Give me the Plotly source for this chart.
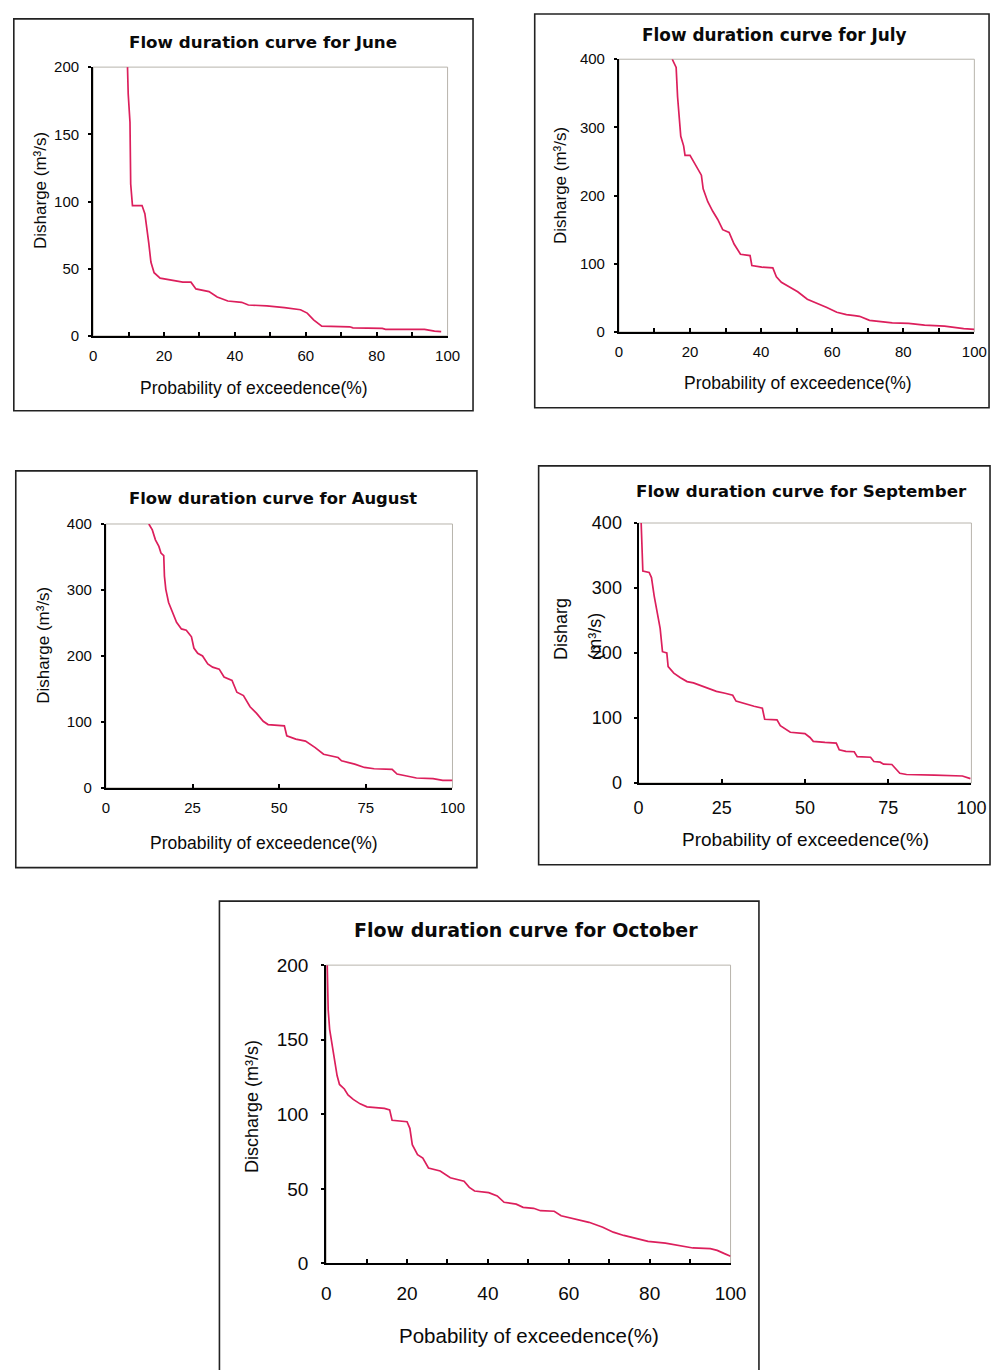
import plotly.graph_objects as go

W, H = 1007, 1370

# ---------------- data ----------------
june_p = [9.7, 9.9, 10.4, 10.6, 11.1, 13.8, 14.6, 15.0, 15.7, 16.3, 17.2, 18.9, 21.7, 25.3, 27.6, 29.0,
          32.7, 35.0, 38.0, 41.9, 43.8, 49.0, 54.0, 58.5, 60.4, 62.2, 64.5, 72.4, 73.3, 81.6, 82.5, 93.5, 96.3, 98.2]
june_q = [200, 180, 159, 113, 97, 97, 91, 84, 69, 55, 47, 43, 41.6, 40, 40, 35,
          33, 29, 26, 25, 23, 22.4, 21, 19.5, 17, 12, 7.3, 6.8, 6, 5.6, 4.9, 4.9, 3.6, 3.2]

july_p = [15.0, 16.1, 16.5, 16.9, 17.4, 18.2, 18.6, 20.0, 20.9, 22.8, 23.2, 23.7, 25.0, 26.4, 27.8, 29.2,
          31.0, 32.4, 34.2, 36.9, 37.4, 40.2, 43.3, 44.3, 45.7, 48.0, 50.3, 53.0, 55.8, 58.5, 61.3, 64.0,
          66.3, 67.7, 70.5, 75.0, 76.9, 81.5, 86.0, 91.6, 94.3, 97.0, 100.0]
july_q = [400, 388, 345, 321, 287, 273, 259, 259, 251, 234, 230, 210, 191, 177, 165, 150,
          146, 129, 114, 112, 97.5, 95, 94, 81, 73, 66, 59, 48, 42, 36, 29, 25.5,
          24, 23, 17, 15, 13.4, 12.5, 10, 8.6, 6.2, 4.8, 3.8]

aug_p = [12.4, 13.4, 14.3, 15.3, 15.9, 16.7, 16.9, 17.3, 18.1, 19.2, 20.4, 21.8, 23.2, 24.7, 25.4, 26.5,
         27.9, 29.4, 30.8, 32.7, 34.1, 36.4, 37.8, 39.7, 41.6, 43.5, 45.4, 46.8, 51.5, 52.2, 54.8, 57.6,
         60.4, 62.8, 67.0, 68.0, 71.8, 74.6, 77.4, 82.6, 84.0, 86.8, 89.6, 94.4, 97.2, 100.0]
aug_q = [400, 391, 376, 366, 356, 352, 321, 301, 281, 266, 251, 241, 239, 229, 212, 204,
         200, 188, 183, 180, 168, 163, 145, 140, 123, 113, 101, 96, 94, 79, 74, 71,
         61, 51, 46, 41, 36, 31, 29, 28, 21, 18, 15, 14, 11.4, 11.4]

sep_p = [0.8, 1.0, 1.3, 3.2, 3.9, 4.7, 5.7, 6.5, 7.2, 8.5, 8.9, 10.6, 12.6, 14.6, 16.5, 18.5, 20.5, 23.4,
         26.0, 28.3, 29.3, 32.3, 34.7, 37.2, 37.9, 41.6, 42.6, 45.6, 50.0, 51.5, 52.5, 56.0, 59.4, 60.3,
         62.3, 64.8, 65.7, 69.7, 70.7, 72.6, 73.6, 76.1, 77.6, 78.5, 80.5, 87.4, 88.9, 97.3, 99.7]
sep_q = [400, 359, 326, 324, 316, 288, 263, 238, 202, 200, 179, 169, 162, 156, 154, 150, 146, 141,
         138, 135, 126, 121, 118, 115, 98, 97, 88, 78, 76, 70, 64, 62.4, 61.4, 51,
         48.7, 48, 40.6, 39.6, 33, 32, 29, 28.4, 19, 15, 13, 12.7, 12, 10.7, 6.6]

oct_p = [0.26, 0.5, 0.86, 1.5, 2.1, 2.7, 3.3, 4.5, 5.4, 6.7, 8.4, 10.1, 14.4, 15.7, 16.3, 20.0, 20.7, 21.3,
         22.6, 23.9, 25.3, 28.2, 30.7, 34.1, 35.4, 36.7, 40.2, 42.3, 44.0, 47.0, 48.7, 51.3, 53.0, 56.4,
         58.1, 61.6, 65.0, 68.4, 71.0, 73.6, 76.2, 79.6, 83.9, 87.3, 90.7, 95.0, 96.7, 98.5, 100.0]
oct_q = [200, 170, 157, 146, 135, 126, 120, 117, 113, 110, 107, 105, 104, 103, 96, 95, 90.6, 79.6,
         73, 70.7, 64, 62, 57.5, 55.2, 51, 48.6, 47.5, 45.3, 41, 39.8, 37.6, 37, 35.4, 35,
         32, 29.8, 27.6, 24.3, 21, 18.8, 17, 14.8, 13.7, 12.2, 10.4, 10, 8.8, 6.6, 4.9]

titles = ["Flow duration curve for June", "Flow duration curve for July",
          "Flow duration curve for August", "Flow duration curve for September",
          "Flow duration curve for October"]
xtitles = ["Probability of exceedence(%)", "Probability of exceedence(%)",
           "Probability of exceedence(%)", "Probability of exceedence(%)",
           "Pobability of exceedence(%)"]
ylabels = ["Disharge (m³/s)", "Disharge (m³/s)", "Disharge (m³/s)", None, "Discharge (m³/s)"]
ymax = [200, 400, 400, 400, 200]
ydtick = [50, 100, 100, 100, 50]
xdtick = [20, 20, 25, 25, 20]
xminor = [10, 10, None, None, 10]
series = [(june_p, june_q), (july_p, july_q), (aug_p, aug_q), (sep_p, sep_q), (oct_p, oct_q)]

# ---------------- layout geometry (pixels) ----------------
areas = [(90, 452, 58, 331), (627, 990, 50, 327), (103, 457, 522, 790),
         (647, 987, 521, 785), (328, 741, 970, 1273)]
boxes = [(9, 478, 9, 407), (541, 1005, 4, 404), (11, 482, 468, 871),
         (545, 1006, 463, 868), (219, 770, 905, 1390)]
title_pos = [(263.5, 33, 16.7), (785.5, 25, 16.9), (273.5, 496, 16.4), (813, 488, 16.7), (532.5, 934, 19)]
xt_pos = [(254, 384, 17.5), (809.5, 379, 17.5), (264.5, 846, 17.5), (817.5, 842, 19), (535.5, 1346, 20.5)]
tickfs = [15, 15, 15, 18, 19]
xstand = [5, 5, 5, 7, 12]
ystand = [6, 6, 6, 8, 9]
ylab_pos = [(36, 245, 17), (568, 240, 17), (39, 707, 17), None, (253, 1183, 18)]

LINE = "#dc1f5c"
TXT = "#0a0a0a"
SANS = "Liberation Sans, Arial, sans-serif"
BOLD = "DejaVu Sans, sans-serif"

fig = go.Figure()
shapes, annos = [], []


def px(x):
    return x / W


def py(y):
    return 1 - y / H


for i, (p, q) in enumerate(series):
    n = "" if i == 0 else str(i + 1)
    fig.add_trace(go.Scatter(x=p, y=q, mode="lines", line=dict(color=LINE, width=1.7),
                             xaxis="x" + n, yaxis="y" + n, showlegend=False, hoverinfo="skip"))
    l, r, t, b = areas[i]
    xa = dict(domain=[px(l), px(r)], range=[0, 100], anchor="y" + n, showgrid=False, zeroline=False,
              showline=True, linecolor="black", linewidth=2, ticks="inside", ticklen=4,
              tickcolor="black", tickwidth=1.5, dtick=xdtick[i], tick0=0,
              tickfont=dict(family=SANS, size=tickfs[i], color=TXT),
              ticklabelstandoff=xstand[i])
    if xminor[i]:
        xa["minor"] = dict(dtick=xminor[i], ticks="inside", ticklen=4, tickcolor="black", tickwidth=1.5)
    ya = dict(domain=[py(b), py(t)], range=[0, ymax[i]], anchor="x" + n, showgrid=False, zeroline=False,
              showline=True, linecolor="black", linewidth=2, ticks="outside", ticklen=3,
              tickcolor="black", tickwidth=1.5, dtick=ydtick[i], tick0=0,
              tickfont=dict(family=SANS, size=tickfs[i], color=TXT),
              ticklabelstandoff=ystand[i])
    fig.layout["xaxis" + n] = xa
    fig.layout["yaxis" + n] = ya
    # light frame of the plot area (top / right)
    shapes.append(dict(type="rect", xref="paper", yref="paper", x0=px(l), x1=px(r), y0=py(b), y1=py(t),
                       line=dict(color="#b8b4ac", width=1), layer="below"))
    # outer box
    bl, br, bt, bb = boxes[i]
    shapes.append(dict(type="rect", xref="paper", yref="paper", x0=px(bl), x1=px(br), y0=py(bb), y1=py(bt),
                       line=dict(color="#222222", width=1.6)))
    tx, ty, tfs = title_pos[i]
    annos.append(dict(text="<b>" + titles[i] + "</b>", x=px(tx), y=py(ty), xref="paper", yref="paper",
                      showarrow=False, xanchor="center", yanchor="middle",
                      font=dict(family=BOLD, size=tfs, color=TXT)))
    xx, xy, xfs = xt_pos[i]
    annos.append(dict(text=xtitles[i], x=px(xx), y=py(xy), xref="paper", yref="paper",
                      showarrow=False, xanchor="center", yanchor="middle",
                      font=dict(family=SANS, size=xfs, color=TXT)))
    if ylab_pos[i]:
        lx, ly, lfs = ylab_pos[i]
        annos.append(dict(text=ylabels[i], x=px(lx), y=py(ly), xref="paper", yref="paper", textangle=-90,
                          showarrow=False, xanchor="center", yanchor="bottom",
                          font=dict(family=SANS, size=lfs, color=TXT)))

# September: y label broken over two overlapping lines
annos.append(dict(text="Disharg", x=px(568), y=py(662), xref="paper", yref="paper", textangle=-90,
                  showarrow=False, xanchor="center", yanchor="bottom",
                  font=dict(family=SANS, size=18, color=TXT)))
annos.append(dict(text="(m³/s)", x=px(603), y=py(662), xref="paper", yref="paper", textangle=-90,
                  showarrow=False, xanchor="center", yanchor="bottom",
                  font=dict(family=SANS, size=18, color=TXT)))

fig.update_layout(width=W, height=H, margin=dict(l=0, r=0, t=0, b=0),
                  paper_bgcolor="white", plot_bgcolor="white",
                  shapes=shapes, annotations=annos, showlegend=False)
fig.write_html("out.html")
